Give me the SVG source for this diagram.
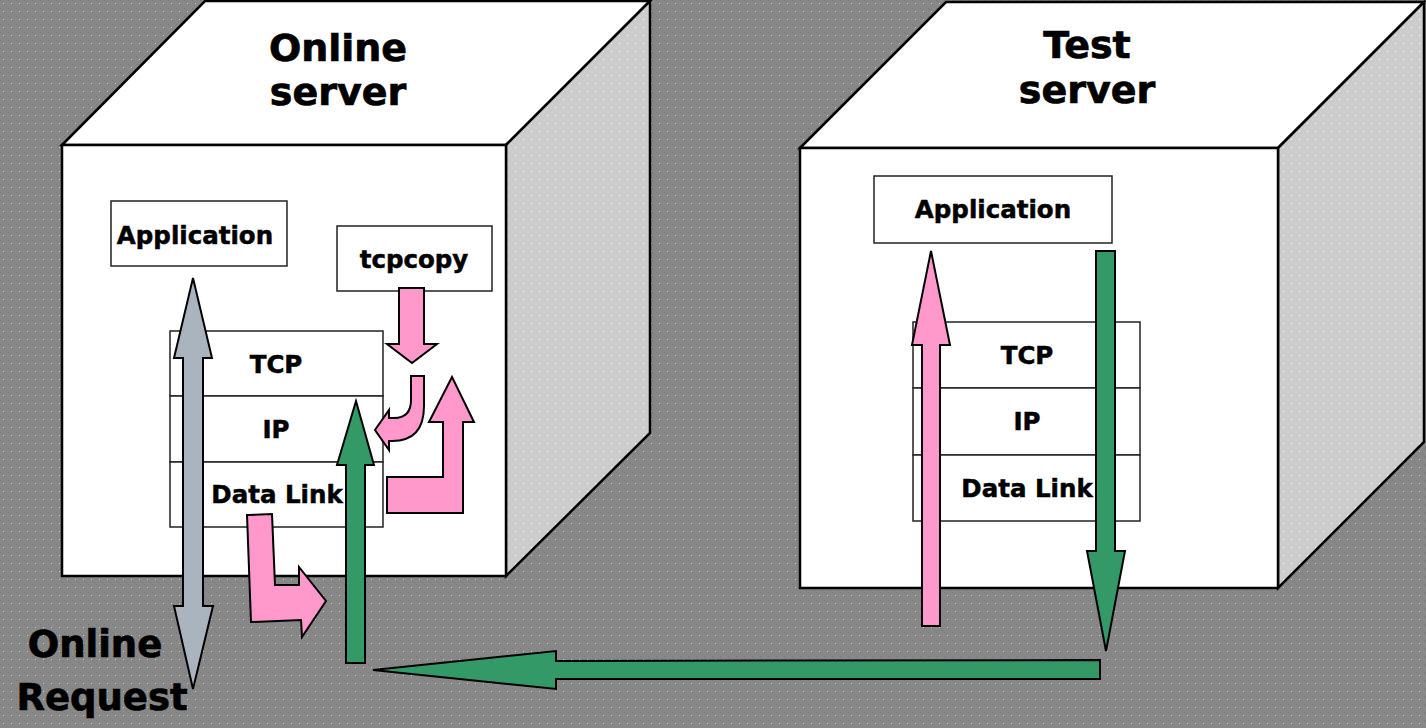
<svg xmlns="http://www.w3.org/2000/svg" width="1426" height="728" viewBox="0 0 1426 728">
<style>
.face{fill:#ffffff;stroke:#000;stroke-width:2.5;stroke-linejoin:miter}
.side{fill:url(#sideDots);stroke:#000;stroke-width:2.5}
.box{fill:#ffffff;stroke:#222;stroke-width:1.5}
.lbl{font-family:"DejaVu Sans",Verdana,sans-serif;font-weight:bold;font-size:24.5px;fill:#000;stroke:#000;stroke-width:0.5;text-anchor:middle}
.title{font-family:"DejaVu Sans",Verdana,sans-serif;font-weight:bold;font-size:38px;fill:#000;stroke:#000;stroke-width:0.7;text-anchor:middle}
.req{font-size:37px}
.pink{fill:#ff99cc;stroke:#000;stroke-width:2;stroke-linejoin:miter}
.green{fill:#339966;stroke:#000;stroke-width:2;stroke-linejoin:miter}
.grey{fill:#aab4bf;stroke:#000;stroke-width:2;stroke-linejoin:miter}
</style>
<defs>
<pattern id="bgDots" width="8" height="8" patternUnits="userSpaceOnUse">
<rect width="8" height="8" fill="#888888"/>
<rect x="0" y="0" width="1" height="1" fill="#767676"/>
<rect x="2" y="2" width="1" height="1" fill="#767676"/>
<rect x="4" y="4" width="1" height="1" fill="#767676"/>
<rect x="6" y="6" width="1" height="1" fill="#767676"/>
<rect x="3" y="3" width="1" height="1" fill="#cfcfcf"/>
</pattern>
<pattern id="sideDots" width="8" height="8" patternUnits="userSpaceOnUse">
<rect width="8" height="8" fill="#cccccc"/>
<rect x="3" y="3" width="1" height="1" fill="#ffffff"/>
</pattern>
</defs>
<rect width="1426" height="728" fill="url(#bgDots)"/>

<g id="online-server">
<polygon class="face" points="62,145 205,1 650,1 506,145"/>
<polygon class="side" points="506,145 650,1 650,433 506,576"/>
<rect class="face" x="62" y="145" width="444" height="431"/>
<text class="title" x="338" y="61">Online</text>
<text class="title" x="338" y="105">server</text>
</g>

<g id="test-server">
<polygon class="face" points="800,148 946,2 1424,2 1278,148"/>
<polygon class="side" points="1278,148 1424,2 1424,442 1278,588"/>
<rect class="face" x="800" y="148" width="478" height="440"/>
<text class="title" x="1087" y="58">Test</text>
<text class="title" x="1087" y="103">server</text>
</g>

<g id="online-application">
<rect class="box" x="111" y="201" width="176" height="65"/>
<text class="lbl" x="195" y="244">Application</text>
</g>
<g id="tcpcopy">
<rect class="box" x="337" y="226" width="155" height="65"/>
<text class="lbl" x="414" y="268">tcpcopy</text>
</g>
<g id="online-tcp">
<rect class="box" x="170" y="331" width="213" height="65"/>
<text class="lbl" x="276" y="373">TCP</text>
</g>
<g id="online-ip">
<rect class="box" x="170" y="396" width="213" height="66"/>
<text class="lbl" x="276" y="438">IP</text>
</g>
<g id="online-datalink">
<rect class="box" x="170" y="462" width="213" height="65"/>
<text class="lbl" x="277" y="503">Data Link</text>
</g>

<g id="test-application">
<rect class="box" x="874" y="176" width="238" height="67"/>
<text class="lbl" x="993" y="218">Application</text>
</g>
<g id="test-tcp">
<rect class="box" x="913" y="322" width="227" height="66"/>
<text class="lbl" x="1027" y="364">TCP</text>
</g>
<g id="test-ip">
<rect class="box" x="913" y="388" width="227" height="67"/>
<text class="lbl" x="1027" y="430">IP</text>
</g>
<g id="test-datalink">
<rect class="box" x="913" y="455" width="227" height="66"/>
<text class="lbl" x="1027" y="497">Data Link</text>
</g>

<g id="online-request">
<text class="title req" x="95" y="657">Online</text>
<text class="title req" x="102" y="710">Request</text>
</g>

<g id="connectors">
<polygon class="grey" points="193,278 212,358 203,358 203,606 213,606 193,689 174,606 183,606 183,358 174,358"/>
<polygon class="green" points="356,401 374,465 365,465 365,663 346,663 346,465 337,465"/>
<polygon class="pink" points="399,288 424,288 424,344 437,344 412,363 387,344 399,344"/>
<path class="pink" d="M411,376 L424,376 L424,406 Q424,441 392,441 L389,441 L389,450 L375,430 L389,410 L389,418 L394,418 Q411,418 411,400 Z"/>
<polygon class="pink" points="387,477 443,477 443,422 429,422 452,377 474,422 463,422 463,513 387,513"/>
<polygon class="pink" points="247,515 272,514 275,585 299,585 299,567 326,601 302,637 301,620 251,622"/>
<polygon class="pink" points="931,251 950,345 940,345 940,626 922,626 922,345 912,345"/>
<polygon class="green" points="1096,251 1115,251 1115,551 1125,551 1106,651 1087,551 1096,551"/>
<polygon class="green" points="1100,660 1100,679 556,679 556,689 373,670 556,651 556,661"/>
</g>
</svg>
